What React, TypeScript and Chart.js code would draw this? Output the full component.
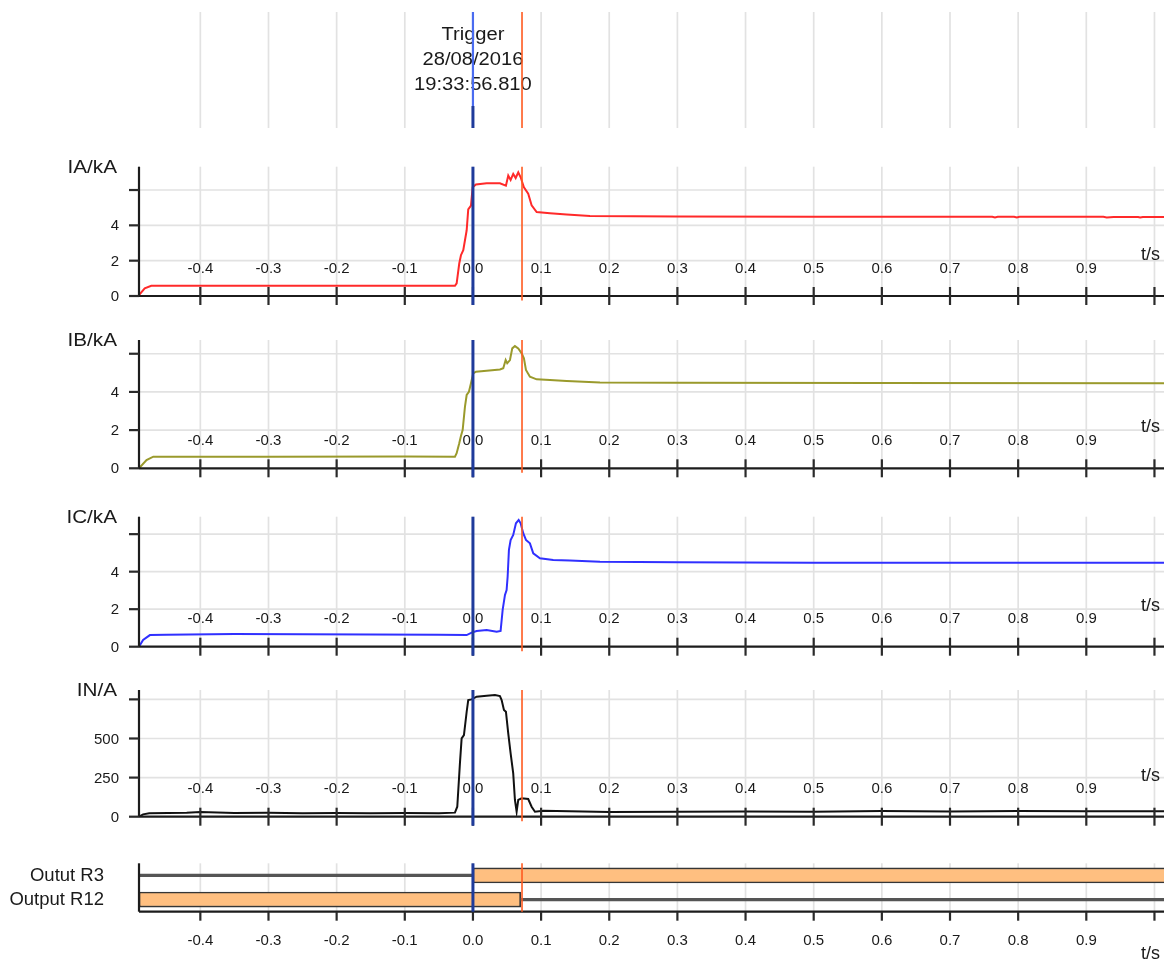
import React, { useEffect, useRef } from "react";
import { Chart, registerables } from "chart.js";
Chart.register(...registerables);

// ---------- data ----------
const X_MIN = -0.49;
const X_MAX = 1.014;
const X_TICKS = [-0.4, -0.3, -0.2, -0.1, 0.0, 0.1, 0.2, 0.3, 0.4, 0.5, 0.6, 0.7, 0.8, 0.9, 1.0];
const X_TICK_LABELS = ["-0.4", "-0.3", "-0.2", "-0.1", "0.0", "0.1", "0.2", "0.3", "0.4", "0.5", "0.6", "0.7", "0.8", "0.9", ""];
const CURSORS = [0.0, 0.072];
const TRIGGER_TEXT = ["Trigger", "28/08/2016", "19:33:56.810"];

const IA_T = [-0.49, -0.4816, -0.472, -0.3, -0.1, -0.0264, -0.0239, -0.0201, -0.0176, -0.0142, -0.0092, -0.0069, -0.0029, -0.0004, 0.0044, 0.0201, 0.0396, 0.0484, 0.0518, 0.0553, 0.0591, 0.0627, 0.0665, 0.07, 0.0748, 0.0811, 0.0861, 0.0935, 0.113, 0.1375, 0.1717, 0.3, 0.5, 0.7, 0.762, 0.766, 0.77, 0.794, 0.798, 0.802, 0.925, 0.93, 0.94, 0.976, 0.979, 0.983, 1.014];
const IA_V = [0.05, 0.43, 0.58, 0.58, 0.58, 0.58, 0.72, 1.84, 2.31, 2.59, 3.72, 4.9, 5.12, 6.16, 6.31, 6.38, 6.38, 6.25, 6.82, 6.57, 6.91, 6.68, 7.0, 6.72, 6.16, 5.79, 5.13, 4.75, 4.69, 4.62, 4.53, 4.5, 4.49, 4.48, 4.48, 4.44, 4.48, 4.48, 4.44, 4.48, 4.48, 4.44, 4.47, 4.47, 4.44, 4.47, 4.47];

const IB_T = [-0.49, -0.479, -0.469, -0.3, -0.1, -0.0264, -0.0239, -0.0201, -0.0176, -0.0151, -0.0117, -0.0092, -0.0059, -0.0029, 0.0004, 0.0044, 0.0201, 0.0396, 0.0445, 0.048, 0.0503, 0.0543, 0.0577, 0.0616, 0.0665, 0.0715, 0.0748, 0.0778, 0.0836, 0.0935, 0.113, 0.1375, 0.1864, 0.3, 0.6, 1.014];
const IB_V = [0.0, 0.43, 0.61, 0.61, 0.62, 0.61, 0.79, 1.31, 1.69, 2.0, 3.23, 3.84, 4.01, 4.45, 4.97, 5.06, 5.11, 5.18, 5.24, 5.67, 5.5, 5.67, 6.28, 6.4, 6.28, 6.02, 5.76, 5.15, 4.8, 4.66, 4.62, 4.57, 4.5, 4.48, 4.47, 4.46];

const IC_T = [-0.49, -0.484, -0.474, -0.45, -0.35, -0.25, -0.15, -0.05, -0.0092, -0.0019, 0.0054, 0.0201, 0.0348, 0.0406, 0.0436, 0.047, 0.0494, 0.0509, 0.0528, 0.0553, 0.0591, 0.0631, 0.0671, 0.07, 0.0738, 0.0778, 0.0836, 0.0885, 0.0983, 0.1178, 0.1423, 0.1864, 0.3, 0.5, 1.014];
const IC_V = [0.0, 0.36, 0.62, 0.64, 0.68, 0.66, 0.65, 0.64, 0.62, 0.75, 0.84, 0.89, 0.8, 0.84, 1.96, 2.76, 3.02, 3.73, 5.16, 5.69, 5.96, 6.58, 6.76, 6.58, 6.05, 5.69, 5.51, 4.98, 4.71, 4.62, 4.59, 4.53, 4.5, 4.48, 4.47];

const IN_T = [-0.49, -0.484, -0.475, -0.42, -0.4, -0.35, -0.3, -0.25, -0.2, -0.15, -0.1, -0.05, -0.0264, -0.023, -0.0191, -0.0166, -0.0132, -0.0092, -0.0069, -0.0019, 0.0054, 0.0201, 0.0323, 0.0396, 0.0421, 0.0455, 0.0484, 0.0518, 0.0553, 0.0591, 0.0616, 0.0641, 0.0665, 0.0715, 0.0811, 0.0861, 0.091, 0.1032, 0.2, 0.3, 0.4, 0.5, 0.6, 0.7, 0.8, 0.9, 1.014];
const IN_V = [0, 15, 22, 25, 30, 24, 25, 22, 24, 22, 24, 22, 26, 64, 341, 501, 522, 671, 746, 750, 767, 773, 778, 771, 746, 682, 671, 533, 405, 277, 107, 32, 107, 118, 113, 64, 32, 38, 30, 32, 34, 32, 36, 34, 37, 35, 35];

const DIG_CATEGORIES = ["Outut R3", "Output R12"];
const DIG_HIGH = [[0.0, 1.2], [-0.49, 0.07]];
const DIG_LOW = [[-0.49, 0.0], [0.07, 1.2]];

// ---------- styling helpers ----------
const FONT = '"Liberation Sans", Arial, Helvetica, sans-serif';
const GRID = "#e2e2e2";
const AXIS = "#1c1c1c";
const TEXT = "#1a1a1a";
const BLUE = "#1f3b9b";
const ORANGE = "#ff5a1f";
const W = 1164;

function txt(ctx: CanvasRenderingContext2D, s: string, x: number, y: number, size: number, align: CanvasTextAlign, stretch = 1) {
  ctx.save();
  ctx.font = `${size}px ${FONT}`;
  ctx.fillStyle = TEXT;
  ctx.textBaseline = "middle";
  ctx.textAlign = align;
  ctx.translate(x, y);
  ctx.scale(stretch, 1);
  ctx.fillText(s, 0, 0);
  ctx.restore();
}

function line(ctx: CanvasRenderingContext2D, x1: number, y1: number, x2: number, y2: number, color: string, w: number) {
  ctx.save();
  ctx.strokeStyle = color;
  ctx.lineWidth = w;
  ctx.beginPath();
  ctx.moveTo(x1, y1);
  ctx.lineTo(x2, y2);
  ctx.stroke();
  ctx.restore();
}

function drawVGrid(chart: any) {
  const { ctx, chartArea: a, scales } = chart;
  X_TICKS.forEach((t) => {
    const x = scales.x.getPixelForValue(t);
    line(ctx, x, a.top, x, a.bottom, GRID, 1.7);
  });
}

function drawCursors(chart: any, extra: number) {
  const { ctx, chartArea: a, scales } = chart;
  const xb = scales.x.getPixelForValue(CURSORS[0]);
  const xo = scales.x.getPixelForValue(CURSORS[1]);
  line(ctx, xb, a.top, xb, a.bottom + extra, BLUE, 3);
  line(ctx, xo, a.top, xo, a.bottom + extra * 0.5, ORANGE, 1.6);
}

// ---------- panel definitions ----------
type Panel = {
  top: number; height: number; padTop: number; padBottom: number;
  yMax: number; yTicks: number[]; yLabels: string[]; title: string;
  color: string; t: number[]; v: number[];
};

const PANELS: Panel[] = [
  { top: 140, height: 170, padTop: 26.7, padBottom: 14, yMax: 7.32, yTicks: [0, 2, 4, 6], yLabels: ["0", "2", "4", ""], title: "IA/kA", color: "#ff2a2a", t: IA_T, v: IA_V },
  { top: 310, height: 172, padTop: 30, padBottom: 13.7, yMax: 6.72, yTicks: [0, 2, 4, 6], yLabels: ["0", "2", "4", ""], title: "IB/kA", color: "#9a9a2c", t: IB_T, v: IB_V },
  { top: 482, height: 178, padTop: 34.7, padBottom: 13.3, yMax: 6.93, yTicks: [0, 2, 4, 6], yLabels: ["0", "2", "4", ""], title: "IC/kA", color: "#3030ff", t: IC_T, v: IC_V },
  { top: 660, height: 172, padTop: 30, padBottom: 15.3, yMax: 810, yTicks: [0, 250, 500, 750], yLabels: ["0", "250", "500", ""], title: "IN/A", color: "#111111", t: IN_T, v: IN_V },
];

function makePanelPlugin(p: Panel) {
  return {
    id: "panelDecor",
    beforeDatasetsDraw(chart: any) {
      const { ctx, chartArea: a, scales } = chart;
      drawVGrid(chart);
      p.yTicks.forEach((v) => {
        if (v === 0) return;
        const y = scales.y.getPixelForValue(v);
        line(ctx, a.left, y, a.right, y, GRID, 1.7);
      });
    },
    afterDatasetsDraw(chart: any) {
      const { ctx, chartArea: a, scales } = chart;
      line(ctx, a.left, a.top, a.left, a.bottom, AXIS, 2.2);
      line(ctx, a.left, a.bottom, a.right, a.bottom, AXIS, 2.2);
      p.yTicks.forEach((v, i) => {
        const y = scales.y.getPixelForValue(v);
        line(ctx, a.left - 10, y, a.left, y, "#2a2a2a", 2.2);
        if (p.yLabels[i]) txt(ctx, p.yLabels[i], a.left - 20, y + 1, 15, "right");
      });
      X_TICKS.forEach((t, i) => {
        const x = scales.x.getPixelForValue(t);
        line(ctx, x, a.bottom - 9, x, a.bottom + 9, "#2a2a2a", 2.2);
        if (X_TICK_LABELS[i]) txt(ctx, X_TICK_LABELS[i], x, a.bottom - 27.5, 15, "center");
      });
      txt(ctx, p.title, a.left - 22, a.top + 1, 18, "right", 1.15);
      txt(ctx, "t/s", 1141, a.bottom - 41, 18, "left");
      drawCursors(chart, 9);
    },
  };
}

const topPlugin = {
  id: "topDecor",
  beforeDatasetsDraw(chart: any) {
    drawVGrid(chart);
  },
  afterDatasetsDraw(chart: any) {
    const { ctx, chartArea: a, scales } = chart;
    const xb = scales.x.getPixelForValue(CURSORS[0]);
    const xo = scales.x.getPixelForValue(CURSORS[1]);
    const cx = scales.x.getPixelForValue(0);
    txt(ctx, TRIGGER_TEXT[0], cx, 35.5, 18, "center", 1.12);
    txt(ctx, TRIGGER_TEXT[1], cx, 60, 18, "center", 1.12);
    txt(ctx, TRIGGER_TEXT[2], cx, 85, 18, "center", 1.12);
    line(ctx, xb, a.top, xb, a.bottom - 22, "#4a6cf0", 2.2);
    line(ctx, xb, a.bottom - 22, xb, a.bottom, BLUE, 3);
    line(ctx, xo, a.top, xo, a.bottom, ORANGE, 1.6);
  },
};

const digPlugin = {
  id: "digDecor",
  beforeDatasetsDraw(chart: any) {
    drawVGrid(chart);
  },
  afterDatasetsDraw(chart: any) {
    const { ctx, chartArea: a, scales } = chart;
    line(ctx, a.left, a.top, a.left, a.bottom, AXIS, 2.2);
    line(ctx, a.left, a.bottom, a.right, a.bottom, AXIS, 2.2);
    X_TICKS.forEach((t, i) => {
      const x = scales.x.getPixelForValue(t);
      line(ctx, x, a.bottom, x, a.bottom + 9, "#2a2a2a", 2.2);
      if (X_TICK_LABELS[i]) txt(ctx, X_TICK_LABELS[i], x, a.bottom + 29, 15, "center");
    });
    DIG_CATEGORIES.forEach((c, i) => {
      const y = scales.y.getPixelForValue(i);
      txt(ctx, c, 104, y + 0.5, 18.5, "right");
    });
    txt(ctx, "t/s", 1141, a.bottom + 42, 18, "left");
    drawCursors(chart, 0);
  },
};

function baseOptions(padTop: number, padBottom: number) {
  return {
    animation: false,
    responsive: false,
    maintainAspectRatio: false,
    events: [],
    layout: { padding: { left: 139, right: 0, top: padTop, bottom: padBottom } },
    plugins: { legend: { display: false }, tooltip: { enabled: false }, title: { display: false } },
  } as any;
}

function PanelChart({ p }: { p: Panel }) {
  const ref = useRef<HTMLCanvasElement>(null);
  useEffect(() => {
    const opts = baseOptions(p.padTop, p.padBottom);
    opts.scales = {
      x: { type: "linear", min: X_MIN, max: X_MAX, display: false },
      y: { type: "linear", min: 0, max: p.yMax, display: false },
    };
    const chart = new Chart(ref.current as HTMLCanvasElement, {
      type: "line",
      data: {
        datasets: [{
          data: p.t.map((x, i) => ({ x, y: p.v[i] })),
          borderColor: p.color, borderWidth: 2, pointRadius: 0, tension: 0, fill: false,
        }],
      },
      options: opts,
      plugins: [makePanelPlugin(p)],
    } as any);
    return () => chart.destroy();
  }, [p]);
  return <canvas ref={ref} width={W} height={p.height} style={{ position: "absolute", left: 0, top: p.top, width: W, height: p.height }} />;
}

function TopChart() {
  const ref = useRef<HTMLCanvasElement>(null);
  useEffect(() => {
    const opts = baseOptions(12, 12);
    opts.scales = {
      x: { type: "linear", min: X_MIN, max: X_MAX, display: false },
      y: { type: "linear", min: 0, max: 1, display: false },
    };
    const chart = new Chart(ref.current as HTMLCanvasElement, {
      type: "line",
      data: { datasets: [{ data: [], pointRadius: 0 }] },
      options: opts,
      plugins: [topPlugin],
    } as any);
    return () => chart.destroy();
  }, []);
  return <canvas ref={ref} width={W} height={140} style={{ position: "absolute", left: 0, top: 0, width: W, height: 140 }} />;
}

function DigitalChart() {
  const ref = useRef<HTMLCanvasElement>(null);
  useEffect(() => {
    const opts = baseOptions(31.3, 48.3);
    opts.indexAxis = "y";
    opts.scales = {
      x: { type: "linear", min: X_MIN, max: X_MAX, display: false },
      y: { type: "category", display: false, offset: true },
    };
    const chart = new Chart(ref.current as HTMLCanvasElement, {
      type: "bar",
      data: {
        labels: DIG_CATEGORIES,
        datasets: [
          { data: DIG_LOW, backgroundColor: "#555", borderColor: "#555", borderWidth: 0, barThickness: 2.5, grouped: false, borderSkipped: false },
          { data: DIG_HIGH, backgroundColor: "#ffbf80", borderColor: "#363636", borderWidth: 1.6, barThickness: 15, grouped: false, borderSkipped: false },
        ],
      },
      options: opts,
      plugins: [digPlugin],
    } as any);
    return () => chart.destroy();
  }, []);
  return <canvas ref={ref} width={W} height={128} style={{ position: "absolute", left: 0, top: 832, width: W, height: 128 }} />;
}

export default function App() {
  return (
    <div style={{ position: "absolute", left: 0, top: 0, width: W, height: 960, background: "#fff", overflow: "hidden" }}>
      <TopChart />
      {PANELS.map((p) => <PanelChart key={p.title} p={p} />)}
      <DigitalChart />
    </div>
  );
}
